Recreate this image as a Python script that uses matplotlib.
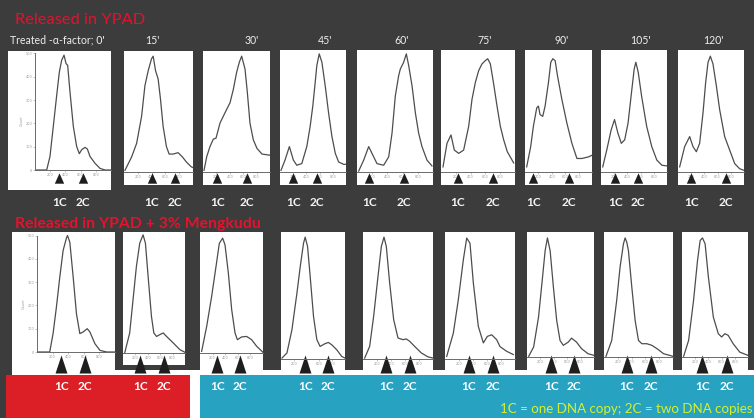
import matplotlib
matplotlib.use("Agg")
import matplotlib.pyplot as plt
from matplotlib.patches import Rectangle
from matplotlib.transforms import blended_transform_factory

# ---------------- data (channel 0-1000, cell count) ----------------
times = ["Treated -\u03b1-factor; 0'", "15'", "30'", "45'", "60'", "75'", "90'", "105'", "120'"]

# Released in YPAD
t0_x = [0, 154, 197, 241, 285, 320, 351, 382, 408, 430, 461, 504, 548, 583, 614, 658, 689, 724, 789, 855, 921, 1000]
t0_y = [0, 0, 58, 188, 319, 420, 471, 493, 457, 449, 333, 188, 101, 70, 87, 97, 90, 58, 29, 7, 0, 0]
t15_x = [14, 111, 183, 255, 303, 351, 399, 423, 457, 495, 529, 567, 615, 654, 712, 784, 846, 904, 976, 1000]
t15_y = [7, 65, 123, 239, 370, 435, 486, 497, 435, 399, 312, 196, 109, 77, 77, 83, 65, 43, 22, 19]
t30_x = [15, 55, 104, 154, 194, 254, 328, 403, 453, 502, 542, 577, 627, 662, 701, 751, 806, 881, 1000]
t30_y = [7, 65, 109, 141, 145, 210, 254, 297, 355, 428, 471, 497, 442, 341, 210, 138, 101, 77, 72]
t45_x = [15, 76, 142, 203, 254, 330, 406, 457, 497, 533, 558, 594, 635, 685, 736, 787, 838, 888, 964, 1000]
t45_y = [7, 51, 109, 51, 29, 36, 109, 196, 283, 384, 457, 507, 471, 370, 254, 152, 80, 43, 33, 33]
t60_x = [22, 88, 154, 197, 263, 351, 417, 461, 504, 548, 570, 614, 649, 680, 724, 768, 811, 855, 921, 987]
t60_y = [4, 51, 109, 80, 36, 29, 65, 167, 326, 413, 442, 471, 507, 457, 370, 254, 167, 109, 51, 26]
t75_x = [27, 81, 135, 180, 239, 306, 374, 419, 464, 509, 554, 599, 631, 667, 712, 757, 802, 847, 896, 982]
t75_y = [22, 123, 159, 94, 80, 94, 196, 312, 384, 435, 464, 478, 486, 464, 377, 283, 196, 138, 87, 39]
t90_x = [25, 85, 125, 175, 200, 225, 265, 300, 350, 385, 415, 450, 485, 550, 625, 700, 775, 850, 950, 1000]
t90_y = [22, 109, 196, 275, 283, 246, 239, 283, 384, 471, 486, 478, 413, 312, 210, 123, 58, 58, 65, 72]
t105_x = [26, 87, 154, 205, 256, 308, 359, 410, 462, 503, 528, 564, 615, 692, 769, 846, 923, 1000]
t105_y = [22, 94, 181, 225, 167, 123, 138, 210, 341, 442, 471, 428, 326, 196, 109, 51, 29, 26]
t120_x = [25, 101, 152, 177, 227, 278, 328, 379, 419, 455, 490, 530, 581, 631, 707, 783, 859, 934, 1000]
t120_y = [22, 109, 138, 152, 109, 87, 123, 254, 384, 471, 497, 464, 370, 268, 152, 94, 36, 14, 7]
ypad_1c = [320, 399, 214, 203, 162, 225, 125, 215, 202]
ypad_2c = [636, 736, 652, 558, 623, 703, 660, 564, 732]

# Released in YPAD + 3% Mengkudu
m0_x = [0, 163, 206, 249, 292, 335, 378, 391, 421, 464, 506, 549, 592, 644, 678, 742, 807, 893, 1000]
m0_y = [0, 0, 79, 193, 321, 436, 490, 500, 471, 321, 164, 79, 86, 100, 86, 36, 7, 0, 0]
m15_x = [27, 108, 162, 216, 270, 324, 362, 405, 459, 497, 541, 595, 649, 703, 811, 919, 1000]
m15_y = [0, 86, 229, 371, 471, 507, 471, 329, 157, 86, 71, 79, 86, 71, 43, 14, 3]
m30_x = [26, 106, 185, 254, 307, 360, 397, 450, 503, 556, 593, 661, 741, 820, 899, 1000]
m30_y = [7, 114, 243, 371, 471, 493, 464, 343, 186, 86, 57, 69, 71, 57, 29, 3]
m45_x = [16, 93, 171, 249, 301, 352, 378, 415, 456, 508, 560, 611, 689, 741, 793, 870, 948, 1000]
m45_y = [4, 26, 126, 283, 397, 497, 523, 483, 354, 183, 83, 54, 66, 71, 61, 40, 11, 4]
m60_x = [24, 95, 152, 214, 262, 300, 333, 381, 438, 500, 571, 619, 667, 738, 833, 929, 1000]
m60_y = [4, 54, 183, 354, 483, 523, 483, 326, 169, 90, 83, 86, 76, 54, 26, 9, 4]
m75_x = [24, 119, 190, 262, 310, 357, 405, 476, 548, 605, 667, 738, 786, 881, 976]
m75_y = [11, 111, 254, 426, 519, 497, 326, 140, 69, 97, 104, 83, 53, 33, 19]
m90_x = [25, 99, 172, 222, 271, 305, 345, 394, 443, 493, 542, 616, 665, 739, 813, 911, 1000]
m90_y = [3, 43, 171, 314, 457, 511, 457, 300, 157, 71, 50, 64, 81, 64, 36, 14, 7]
m105_x = [29, 112, 184, 233, 282, 306, 330, 354, 403, 451, 500, 549, 621, 694, 767, 864, 1000]
m105_y = [3, 71, 243, 386, 486, 511, 493, 457, 300, 157, 71, 57, 57, 50, 36, 14, 3]
m120_x = [25, 100, 175, 235, 275, 310, 350, 400, 475, 550, 600, 650, 700, 775, 875, 1000]
m120_y = [3, 71, 243, 414, 500, 511, 486, 343, 171, 100, 86, 100, 93, 57, 21, 7]
meng_1c = [313, 281, 275, 378, 333, 343, 360, 330, 310]
meng_2c = [614, 659, 635, 731, 676, 681, 700, 680, 675]

top_curves = [(t0_x, t0_y), (t15_x, t15_y), (t30_x, t30_y), (t45_x, t45_y), (t60_x, t60_y),
              (t75_x, t75_y), (t90_x, t90_y), (t105_x, t105_y), (t120_x, t120_y)]
bot_curves = [(m0_x, m0_y), (m15_x, m15_y), (m30_x, m30_y), (m45_x, m45_y), (m60_x, m60_y),
              (m75_x, m75_y), (m90_x, m90_y), (m105_x, m105_y), (m120_x, m120_y)]

# ---------------- layout (pixels) ----------------
W, H = 754, 418
BG = "#3c3c3c"
FONT = ["Lato", "DejaVu Sans"]
top_boxes = [(8, 51, 111, 190), (124, 51, 193, 185), (203, 51, 270, 185), (280, 50, 346, 185),
             (357, 50, 433, 185), (441, 50, 515, 185), (525, 50, 592, 185), (601, 50, 667, 185),
             (678, 50, 744, 185)]
top_base = [170, 172, 172, 172, 172, 172, 172, 172, 172]
bot_boxes = [(12, 232, 115, 375), (123, 232, 185, 365), (200, 232, 263, 370), (281, 232, 345, 370),
             (363, 232, 433, 370), (445, 232, 515, 370), (527, 232, 594, 370), (604, 232, 673, 370),
             (682, 232, 748, 370)]
bot_base = [352, 353, 353, 359, 359, 359, 357, 357, 357]
time_x = [10, 152, 252, 325, 402, 485, 562, 640, 713]
PX_PER_COUNT = 0.233

fig = plt.figure(figsize=(W / 100, H / 100), dpi=100, facecolor=BG)


def fy(y):
    return 1 - y / H


def add_rect(x0, y0, x1, y1, color, z=-2):
    fig.add_artist(Rectangle((x0 / W, 1 - y1 / H), (x1 - x0) / W, (y1 - y0) / H,
                             transform=fig.transFigure, facecolor=color, edgecolor="none", zorder=z))


# white strip under lower panels, separators, bottom bars
add_rect(12, 360, 754, 375, "white", z=-3)
add_rect(190, 360, 200, 418, "white", z=-3)
for g0, g1 in [(115, 123), (185, 200), (263, 281), (345, 363), (433, 445), (515, 527),
               (594, 604), (673, 682), (748, 754)]:
    add_rect(g0, 232, g1, 370, BG, z=-2.5)
add_rect(113, 365, 200, 370, BG, z=-2.5)
add_rect(6, 375, 190, 418, "#dc1f26", z=-2)
add_rect(200, 375, 754, 418, "#27a3c1", z=-2)

tri_top = [(-0.45, -0.5), (0.45, -0.5), (0, 0.5)]
tri_bot = [(-0.33, -0.5), (0.33, -0.5), (0, 0.5)]


def panel(box, plot_left, base, xs, ys, c1, c2, yaxis, tri, tri_y, tri_ms, lab_y, lab_col):
    x0, y0, x1, y1 = box
    add_rect(x0, y0, x1, y1, "white", z=-1)
    ax = fig.add_axes([plot_left / W, 1 - y1 / H, (x1 - plot_left) / W, (y1 - y0) / H])
    ax.set_facecolor("none")
    ax.set_xlim(0, 1000)
    ax.set_ylim(-(y1 - base) / PX_PER_COUNT, (base - y0) / PX_PER_COUNT)
    ax.plot(xs, ys, color="#4d4d4d", lw=0.9, solid_joinstyle="round")
    for sp in ("top", "right"):
        ax.spines[sp].set_visible(False)
    ax.spines["bottom"].set_position(("data", 0))
    ax.spines["bottom"].set_color("#6a6a6a")
    ax.spines["bottom"].set_linewidth(0.7)
    ax.set_xticks([200, 400, 600, 800])
    ax.tick_params(axis="x", length=1.5, width=0.4, labelsize=2.5, colors="#9a9a9a", pad=0.6)
    if yaxis:
        ax.spines["left"].set_color("#6a6a6a")
        ax.spines["left"].set_linewidth(0.7)
        ax.spines["left"].set_bounds(0, 500)
        ax.set_yticks([0, 100, 200, 300, 400, 500])
        ax.tick_params(axis="y", length=1.5, width=0.4, labelsize=2.5, colors="#9a9a9a", pad=0.6)
        ax.set_ylabel("Count", fontsize=2.5, color="#9a9a9a", labelpad=1)
    else:
        ax.spines["left"].set_visible(False)
        ax.set_yticks([])
    trans = blended_transform_factory(ax.transData, fig.transFigure)
    ax.plot([c1, c2], [fy(tri_y), fy(tri_y)], transform=trans, ls="none", marker=tri,
            ms=tri_ms, color="#1e1e1e", mec="none", clip_on=False)
    for c, lab in ((c1, "1C"), (c2, "2C")):
        ax.text(c, fy(lab_y), lab, transform=trans, ha="center", va="center", color=lab_col,
                fontsize=8.5, fontweight="bold", family=FONT, clip_on=False)
    return ax


for i in range(9):
    left = 35 if i == 0 else top_boxes[i][0]
    panel(top_boxes[i], left, top_base[i], top_curves[i][0], top_curves[i][1],
          ypad_1c[i], ypad_2c[i], i == 0, tri_top, 178, 7.5, 202, "#f4f4f4")
    fig.text(time_x[i] / W, fy(40), times[i], ha="left" if i == 0 else "center", va="center",
             color="#eeeeee", fontsize=7.6, family=FONT)

for i in range(9):
    left = 37 if i == 0 else bot_boxes[i][0]
    panel(bot_boxes[i], left, bot_base[i], bot_curves[i][0], bot_curves[i][1],
          meng_1c[i], meng_2c[i], i == 0, tri_bot, 364, 13, 386, "white")

fig.text(15 / W, fy(20), "Released in YPAD", ha="left", va="center", color="#e3122d",
         fontsize=11.8, family=FONT)
fig.text(15 / W, fy(224), "Released in YPAD + 3% Mengkudu", ha="left", va="center",
         color="#e3122d", fontsize=11.3, fontweight="bold", family=FONT)
fig.text(752 / W, fy(409), "1C = one DNA copy; 2C = two DNA copies", ha="right", va="center",
         color="#d6ef2c", fontsize=9.6, family=FONT)

fig.savefig("out.png", dpi=100, facecolor=BG)
